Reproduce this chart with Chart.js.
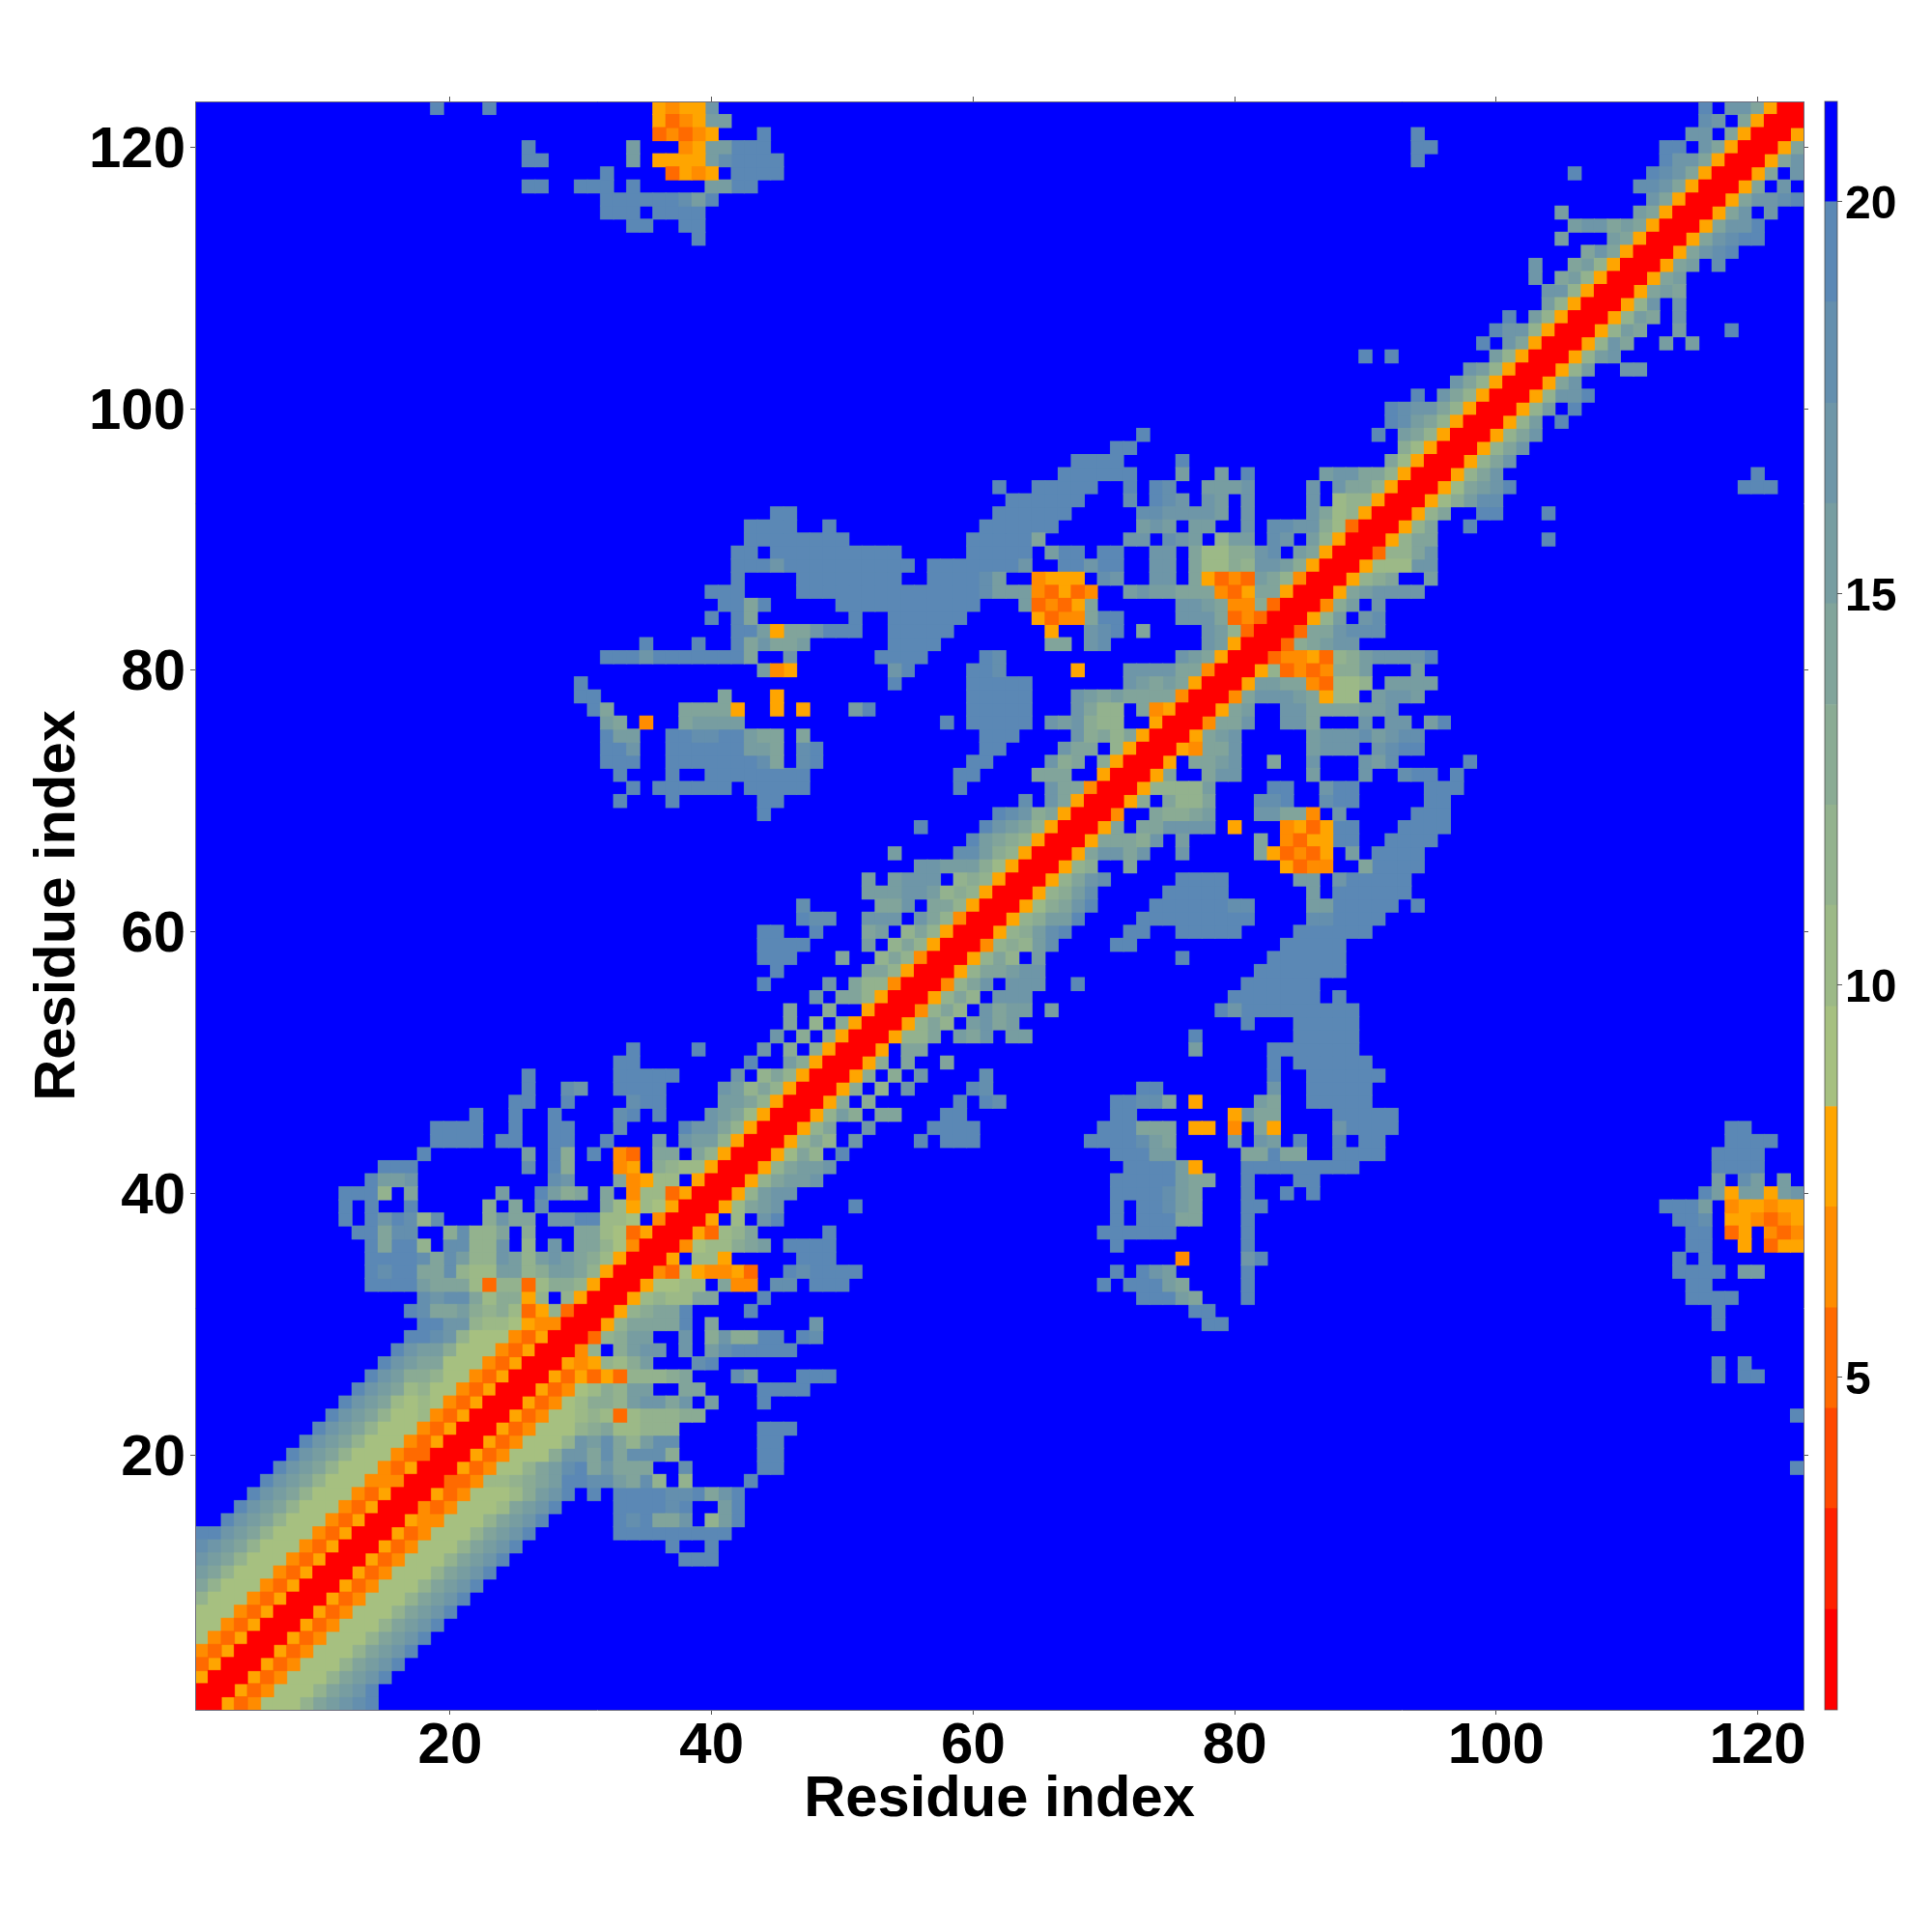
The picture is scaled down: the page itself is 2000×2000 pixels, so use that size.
<!DOCTYPE html>
<html>
<head>
<meta charset="utf-8">
<title>Residue distance map</title>
<script src="https://cdn.jsdelivr.net/npm/chart.js@4/dist/chart.umd.min.js"></script>
<style>
  html, body { margin: 0; padding: 0; background: #fff; }
  #map { position: absolute; left: 0; top: 0; }
  #bar { position: absolute; left: 1880px; top: 0; }
</style>
</head>
<body>
<canvas id="map" width="2000" height="2000"></canvas>
<canvas id="bar" width="120" height="2000"></canvas>
<script>
const residueCount = 123;
const axisTicks = [20, 40, 60, 80, 100, 120];
const barTicks = [5, 10, 15, 20];
const axisLabel = 'Residue index';

// colour bar: 16 bands, red (close) to blue (above 20)
const levelEdges = [0.75, 2.03, 3.32, 4.6, 5.88, 7.17, 8.45, 9.73, 11.02, 12.3, 13.58, 14.87, 16.15, 17.43, 18.72, 20, 21.28];
const levelColors = ['#ff0000', '#ff2200', '#ff4800', '#ff6a00', '#ff8c00', '#ffa500', '#a6c080', '#9cb987',
  '#93b28e', '#8aab94', '#81a49b', '#779da1', '#6e96a8', '#648fae', '#5b88b5', '#0000ff'];

// map is symmetric, so only the part right of the diagonal is kept, row by row.
// "col:levels" = band number in hex from that column on, '.' and anything not listed = band 15 (blue).
// the first column of each entry is also the row number
const upperRows = [
  '1:005346668abcde', '2:005346668abce', '3:005346668abce', '4:005346668abce', '5:005346668abce',
  '6:005346668abce', '7:005346668abce', '8:005346668abce', '9:005346668abce', '10:005346668abce',
  '11:005346668abce',
  '12:005346668abce 38:eee',
  '13:005346668abce 37:e 40:e',
  '14:005346668abce 33:eeeeeeeee',
  '15:005446668abce 33:edeaac.8be',
  '16:004346667abce 33:eeeede..be',
  '17:0053466679bce.e.eeeeddeace',
  '18:003347789abeeddbad8.8 43:e',
  '19:00534668abdeacaaa..d 44:ee 123:e',
  '20:005346669ccadaddd9 44:ee',
  '21:005346668cbda8bdd 44:ee',
  '22:0053466689a77888 44:eee',
  '23:00534667873788899 123:e',
  '24:0053467998bccac.b 44:e',
  '25:005346798bb..aa 44:eeee',
  '26:005353538889a 42:db 47:eee 117:e.ee',
  '27:00545879b 39:de 117:e.e',
  '28:0048.9bcc.c.bdeeeee',
  '29:00389bb..c.9c99ee.ed',
  '30:0058aaaae.a 48:c 78:ee 117:e',
  '31:00589aae 43:e 77:ee 117:e',
  '32:0057877aa 44:e 73:eeeba 81:e 115:eeee',
  '33:0056677.a44 45:dd 48:eee 70:e 72:eeeba 81:e 115:ee',
  '34:0043654453 46:edeeee 71:e 73:ecb 81:e 114:eeee.bb',
  '35:005.775 47:eee 76:4 81:ce 114:e.e',
  '36:0046779ab 46:eeee 71:e 81:e 115:ee..5.355',
  '37:005378a 49:e 70:eeeeee 81:e 115:ee.35.434',
  '38:005.7.ce 71:e.eeeaa 81:e 114:eed.554345',
  '39:0057abc 51:e 71:e.eedba 81:ee 113:eeeb.455455',
  '40:0058bcc 71:eeeedba 81:e 84:e 86:e 116:eb5bb5bc',
  '41:0058abbc 71:eeeeebaa 81:e 85:ee 117:b.db.b',
  '42:0058abbc 72:eeeeb5 81:eeeeeeeee 117:eeee',
  '43:0057a8.e 71:eeebb 81:aaeaa 88:eeee 117:eeee',
  '44:0058a8.c 56:e 58:eee 69:eeeedba 80:b.cb.e 88:e.ee 118:eeee',
  '45:0058a..c 57:eeee 70:eeeaaa.55.4.a5 88:ceeee 118:ee',
  '46:0058b9.aa 58:ee 71:ee 80:5caa 88:eeeee',
  '47:0059.9 59:e 61:ed 71:eedda.5 82:ba 86:eeeee',
  '48:0059.8.c 60:ed 73:ee 83:c 86:eeeee',
  '49:0059.9.c 61:d 83:e 86:eeeeee',
  '50:0059.a 58:a 83:e 85:eeeeee',
  '51:005.aa 77:b 83:eeeeeee',
  '52:00588a.bac.bb 77:e 85:eeeee',
  '53:0058a8.bcab 81:e 85:eeeee',
  '54:0048a8.cabb.b 79:ec 81:eeeeeeeee',
  '55:0058a8.ccc 80:eeeeeee 88:e',
  '56:0048ac.ccc 68:e 81:eeeeee',
  '57:0058aabcc 82:eeeeeee',
  '58:0058a8.b 76:e 83:eeeeee',
  '59:004898bd 71:ee 84:eeeee',
  '60:00589bde 72:ee 76:eeeee 85:eeeeee',
  '61:00589bbe 73:eeeeeeeee 86:ddeeee',
  '62:00579ace 74:eeeeeedd 86:bbeeeee 94:e',
  '63:00589bd 75:eeeee 86:b.eeeeee',
  '64:0058acd 76:eeee 85:bb.ceeeee',
  '65:00589..a 84:5344 90:aeeee',
  '66:005accac 76:c 82:a53435 89:b 91:eeee',
  '67:005aaa9c.b 82:a.4355ee 92:eeee',
  '68:005a.aacccc 80:5 84:4535ee 93:eeee',
  '69:004..a99ab 82:ccaa4.c 94:eee',
  '70:0059.a88a 82:dde 87:dee 95:ee',
  '71:0058888b 83:ee 87:cee 95:eee',
  '72:005a..acc 86:b 90:c 93:dee 97:e',
  '73:005.aabc 83:a 86:c 90:cbd 98:e',
  '74:0054aac 86:bccc.cdee',
  '75:005abc 86:bcccdbcdd',
  '76:004aac 84:cca 90:c.cc 95:be',
  '77:005ab 84:ccaaaabbc',
  '78:004acccba577.bccb',
  '79:005bbaa43778.bbbb',
  '80:0058343499b 94:b',
  '81:003445389bcccce',
  '82:0039abcc',
  '83:003aacddd',
  '84:0058b.cd',
  '85:0049b.c',
  '86:005abcccc',
  '87:00589a 95:b',
  '88:005777cc',
  '89:00388ac',
  '90:0058aa 104:e',
  '91:0058a 98:e',
  '92:0058a 99:ee 104:e',
  '93:00579bdd',
  '94:0057abce 119:eee',
  '95:0058ac 120:e',
  '96:0058ac',
  '97:0058ac',
  '98:0058ac',
  '99:0058b.e',
  '100:0058b.e',
  '101:0058cce',
  '102:005ac',
  '103:0058b 110:cc',
  '104:0058bc',
  '105:0058ca 113:b 115:b',
  '106:0058ba 114:b 118:e',
  '107:0058ba 114:c',
  '108:0058c 114:c',
  '109:005aba',
  '110:005ab',
  '111:005ab 117:d',
  '112:005acde',
  '113:005acdee',
  '114:005acce',
  '115:005ac.c',
  '116:005accde',
  '117:005a.c',
  '118:005a.c',
  '119:005ac',
  '120:005a',
  '121:005',
  '122:00',
  '123:0'
];

const blue = levelColors.length - 1;
const grid = [];
for (let r = 0; r <= residueCount; r++) grid.push(new Array(residueCount + 1).fill(blue));

upperRows.forEach(entry => {
  const parts = entry.split(' ');
  const row = parseInt(parts[0], 10);
  parts.forEach(part => {
    const [col, levels] = part.split(':');
    [...levels].forEach((ch, i) => {
      if (ch === '.') return;
      const c = parseInt(col, 10) + i;
      grid[row][c] = parseInt(ch, 16);
      grid[c][row] = parseInt(ch, 16);
    });
  });
});

const levelPoints = levelColors.map(() => []);
for (let r = 1; r <= residueCount; r++) {
  for (let c = 1; c <= residueCount; c++) {
    levelPoints[grid[r][c]].push({ x: c, y: r });
  }
}

const fontFamily = '"Liberation Sans", Arial, sans-serif';
const frameColor = '#6c6c7c';
const cellSize = 1665 / residueCount;
// rect point style has side radius * sqrt(2), overlap of about a pixel hides the seams
const cellRadius = (cellSize + 1) * Math.SQRT1_2;
const blueRadius = (cellSize + 1.6) * Math.SQRT1_2;

function fixedTicks(values) {
  return scale => { scale.ticks = values.map(v => ({ value: v })); };
}

function edgeAxis(position) {
  return {
    type: 'linear',
    position: position,
    min: 0.5,
    max: residueCount + 0.5,
    afterBuildTicks: fixedTicks(axisTicks),
    afterFit: scale => {
      if (position === 'top') scale.height = 5; else scale.width = 5;
    },
    ticks: { display: false },
    border: { color: frameColor, width: 1, z: 1 },
    grid: { drawOnChartArea: false, tickLength: 5, tickColor: '#555', tickWidth: 1 }
  };
}

new Chart(document.getElementById('map'), {
  type: 'scatter',
  data: {
    datasets: levelPoints.map((points, i) => ({
      data: points,
      backgroundColor: levelColors[i],
      pointStyle: 'rect',
      pointRadius: i === blue ? blueRadius : cellRadius,
      borderWidth: 0,
      clip: 0,
      xAxisID: 'x',
      yAxisID: 'y',
      order: i === blue ? 1 : 0
    }))
  },
  options: {
    responsive: false,
    devicePixelRatio: 1,
    animation: false,
    events: [],
    layout: { padding: { left: 0, top: 100, right: 128, bottom: 0 } },
    plugins: { legend: { display: false }, tooltip: { enabled: false }, title: { display: false } },
    scales: {
      x: {
        type: 'linear',
        position: 'bottom',
        min: 0.5,
        max: residueCount + 0.5,
        afterBuildTicks: fixedTicks(axisTicks),
        afterFit: scale => { scale.height = 230; },
        ticks: {
          color: '#000', autoSkip: false, maxRotation: 0, padding: -3,
          font: { family: fontFamily, weight: 'bold', size: 60 }
        },
        title: {
          display: true, text: axisLabel, color: '#000',
          font: { family: fontFamily, weight: 'bold', size: 59.7 },
          padding: { top: 0, bottom: 101 }
        },
        border: { color: frameColor, width: 1, z: 1 },
        grid: { drawOnChartArea: false, tickLength: 5, tickColor: '#555', tickWidth: 1 }
      },
      y: {
        type: 'linear',
        position: 'left',
        min: 0.5,
        max: residueCount + 0.5,
        afterBuildTicks: fixedTicks(axisTicks),
        afterFit: scale => { scale.width = 202; },
        ticks: {
          color: '#000', autoSkip: false, padding: 5, labelOffset: 4,
          font: { family: fontFamily, weight: 'bold', size: 60 }
        },
        title: {
          display: true, text: axisLabel, color: '#000',
          font: { family: fontFamily, weight: 'bold', size: 59.7 },
          padding: { top: 25, bottom: 0 }
        },
        border: { color: frameColor, width: 1, z: 1 },
        grid: { drawOnChartArea: false, tickLength: 5, tickColor: '#555', tickWidth: 1 }
      },
      xTop: edgeAxis('top'),
      yRight: edgeAxis('right')
    }
  }
});

const barOutline = {
  id: 'barOutline',
  afterDraw(chart) {
    const a = chart.chartArea;
    const ctx = chart.ctx;
    ctx.save();
    ctx.strokeStyle = 'rgba(70,70,70,0.75)';
    ctx.lineWidth = 1;
    ctx.strokeRect(a.left, a.top, a.right - a.left, a.bottom - a.top);
    ctx.restore();
  }
};

// left edge of this canvas is at 1880, bar sits at 1889..1902 and 105..1770
new Chart(document.getElementById('bar'), {
  type: 'bar',
  data: {
    labels: [''],
    datasets: levelColors.map((color, i) => ({
      data: [[levelEdges[i], levelEdges[i + 1]]],
      backgroundColor: color,
      borderWidth: 0,
      barPercentage: 1,
      categoryPercentage: 1
    }))
  },
  options: {
    responsive: false,
    devicePixelRatio: 1,
    animation: false,
    events: [],
    layout: { padding: { left: 9, top: 105, right: 0, bottom: 230 } },
    plugins: { legend: { display: false }, tooltip: { enabled: false } },
    scales: {
      x: { stacked: true, display: false },
      y: {
        position: 'right',
        min: levelEdges[0],
        max: levelEdges[levelEdges.length - 1],
        afterBuildTicks: fixedTicks(barTicks),
        afterFit: scale => { scale.width = 98; },
        ticks: {
          color: '#000', autoSkip: false, padding: 3, labelOffset: 4,
          font: { family: fontFamily, weight: 'bold', size: 48 }
        },
        border: { display: false },
        grid: { drawOnChartArea: false, tickLength: 5, tickColor: '#555', tickWidth: 1 }
      }
    }
  },
  plugins: [barOutline]
});
</script>
</body>
</html>
